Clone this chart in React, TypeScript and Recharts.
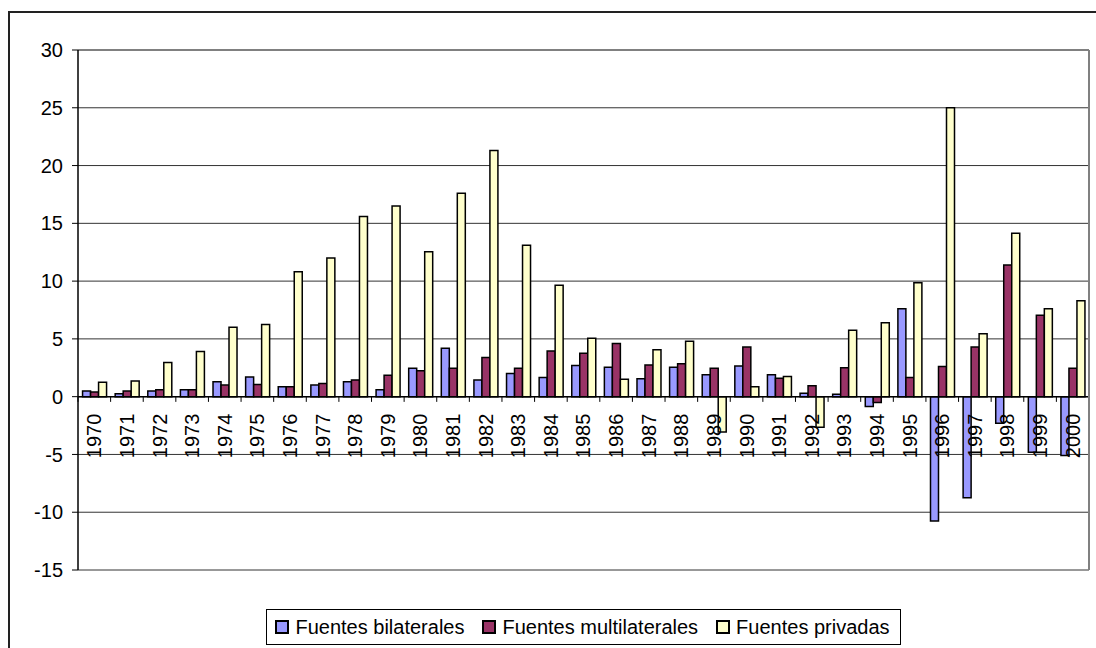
import React from "react";
import { ComposedChart, Bar, Line, XAxis, YAxis, CartesianGrid, ReferenceLine } from "recharts";

const FONT = "'Liberation Sans', Arial, Helvetica, sans-serif";

const years = [
  "1970", "1971", "1972", "1973", "1974", "1975", "1976", "1977", "1978", "1979",
  "1980", "1981", "1982", "1983", "1984", "1985", "1986", "1987", "1988", "1989",
  "1990", "1991", "1992", "1993", "1994", "1995", "1996", "1997", "1998", "1999", "2000",
];

const bilaterales = [
  0.5, 0.25, 0.5, 0.6, 1.3, 1.7, 0.85, 1.0, 1.3, 0.6,
  2.45, 4.2, 1.45, 2.0, 1.65, 2.7, 2.55, 1.55, 2.55, 1.9,
  2.65, 1.9, 0.3, 0.2, -0.85, 7.6, -10.75, -8.75, -2.3, -4.8, -5.1,
];

const multilaterales = [
  0.4, 0.5, 0.6, 0.6, 1.0, 1.05, 0.85, 1.15, 1.45, 1.85,
  2.25, 2.45, 3.4, 2.45, 3.95, 3.75, 4.6, 2.75, 2.85, 2.45,
  4.3, 1.6, 0.95, 2.5, -0.5, 1.65, 2.6, 4.3, 11.4, 7.05, 2.45,
];

const privadas = [
  1.25, 1.35, 2.95, 3.9, 6.0, 6.25, 10.8, 12.0, 15.6, 16.5,
  12.55, 17.6, 21.3, 13.1, 9.65, 5.05, 1.5, 4.05, 4.8, -3.05,
  0.85, 1.75, -2.65, 5.75, 6.4, 9.85, 25.0, 5.45, 14.15, 7.6, 8.3,
];

const yTicks = [-15, -10, -5, 0, 5, 10, 15, 20, 25, 30];

const series = [
  { key: "bil", name: "Fuentes bilaterales", color: "#9999FF" },
  { key: "mul", name: "Fuentes multilaterales", color: "#993366" },
  { key: "pri", name: "Fuentes privadas", color: "#FFFFCC" },
];

const data = years.map((y, i) => ({
  year: y,
  bil: bilaterales[i],
  mul: multilaterales[i],
  pri: privadas[i],
  base: 0,
}));

const renderYearLabel = (props: any) => {
  const { cx, cy, payload, index } = props;
  if (cx == null || cy == null) return <g key={`l${index}`} />;
  const ty = cy + 17;
  return (
    <text
      key={`l${index}`}
      x={cx}
      y={ty}
      transform={`rotate(-90 ${cx} ${ty})`}
      textAnchor="end"
      dominantBaseline="central"
      fontSize={20}
      fontFamily={FONT}
      fill="#000"
    >
      {payload.year}
    </text>
  );
};

export default function App() {
  return (
    <div
      style={{
        position: "absolute",
        left: 0,
        top: 0,
        width: 1096,
        height: 648,
        overflow: "hidden",
        background: "#fff",
        fontFamily: FONT,
      }}
    >
      <div
        style={{
          position: "absolute",
          left: 8,
          top: 11,
          width: 1200,
          height: 700,
          border: "2px solid #222",
          boxSizing: "border-box",
        }}
      />
      <div style={{ position: "absolute", left: 0, top: 0 }}>
        <ComposedChart
          width={1096}
          height={648}
          data={data}
          margin={{ top: 50, right: 6, bottom: 78, left: 0 }}
          barGap={0}
          barCategoryGap="14%"
          style={{ fontFamily: FONT }}
        >
          <CartesianGrid horizontal vertical={false} stroke="#333" strokeWidth={1} />
          <XAxis dataKey="year" hide />
          <YAxis
            domain={[-15, 30]}
            ticks={yTicks}
            width={78}
            interval={0}
            tick={{ fontSize: 20, fill: "#000", fontFamily: FONT }}
            tickSize={6}
            tickMargin={9}
            tickLine={{ stroke: "#000" }}
            axisLine={{ stroke: "#000", strokeWidth: 1.5 }}
          />
          <YAxis
            yAxisId="r"
            orientation="right"
            domain={[-15, 30]}
            ticks={yTicks}
            width={1}
            tick={false}
            tickLine={false}
            axisLine={{ stroke: "#808080", strokeWidth: 2 }}
          />
          <ReferenceLine y={30} stroke="#808080" strokeWidth={2} />
          {series.map((s) => (
            <Bar
              key={s.key}
              dataKey={s.key}
              name={s.name}
              fill={s.color}
              stroke="#000"
              strokeWidth={1.5}
              isAnimationActive={false}
            />
          ))}
          <ReferenceLine y={0} stroke="#000" strokeWidth={1.5} />
          {years.map((y) => (
            <ReferenceLine
              key={`t${y}`}
              segment={[{ x: y, y: 0 }, { x: y, y: -0.45 }]}
              position="start"
              stroke="#000"
              strokeWidth={1}
            />
          ))}
          <ReferenceLine
            segment={[{ x: years[years.length - 1], y: 0 }, { x: years[years.length - 1], y: -0.45 }]}
            position="end"
            stroke="#000"
            strokeWidth={1}
          />
          <Line
            dataKey="base"
            stroke="none"
            dot={renderYearLabel}
            activeDot={false}
            isAnimationActive={false}
            legendType="none"
          />
        </ComposedChart>
      </div>
      <div
        style={{
          position: "absolute",
          left: 78,
          width: 1011,
          top: 609,
          display: "flex",
          justifyContent: "center",
        }}
      >
        <div
          style={{
            border: "1px solid #000",
            height: 36,
            boxSizing: "border-box",
            display: "flex",
            alignItems: "center",
            padding: "0 10px 0 8px",
            background: "#fff",
          }}
        >
          {series.map((s, i) => (
            <div
              key={s.key}
              style={{
                display: "flex",
                alignItems: "center",
                marginLeft: i === 0 ? 0 : 18,
              }}
            >
              <div
                style={{
                  width: 10,
                  height: 10,
                  background: s.color,
                  border: "2px solid #000",
                  marginRight: 6,
                }}
              />
              <span style={{ fontSize: 20, color: "#000", lineHeight: "20px" }}>{s.name}</span>
            </div>
          ))}
        </div>
      </div>
    </div>
  );
}
